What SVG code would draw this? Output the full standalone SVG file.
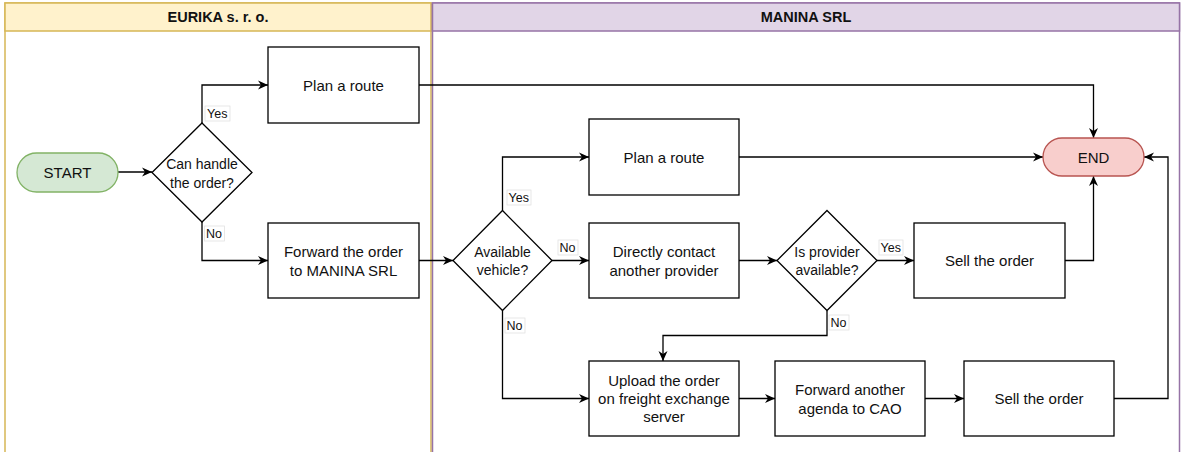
<svg xmlns="http://www.w3.org/2000/svg" width="1181" height="452" viewBox="0 0 1181 452">
<style>
  text { font-family: "Liberation Sans", Arial, sans-serif; fill: #111; }
  .box { fill: #ffffff; stroke: #000; stroke-width: 1.3; }
  .t { font-size: 15px; text-anchor: middle; dominant-baseline: central; }
  .td { font-size: 14px; text-anchor: middle; dominant-baseline: central; }
  .hdr { font-size: 14.5px; font-weight: bold; text-anchor: middle; dominant-baseline: central; }
  .lbl { font-size: 12.5px; dominant-baseline: central; }
  .lblbg { fill: #fff; stroke: #e2e2e2; stroke-width: 0.8; }
  .edge { fill: none; stroke: #000; stroke-width: 1.3; marker-end: url(#arr); }
</style>
<defs>
  <marker id="arr" markerUnits="userSpaceOnUse" markerWidth="12" markerHeight="10" refX="10" refY="5" orient="auto">
    <path d="M0,0.5 L10,5 L0,9.5 L3,5 Z" fill="#000"/>
  </marker>
</defs>
<rect width="1181" height="452" fill="#fff"/>

<g id="lane-eurika">
  <rect x="5" y="3" width="426" height="460" fill="#fff" stroke="#d6b656" stroke-width="1.5"/>
  <rect x="5" y="3" width="426" height="28" fill="#fff2cc" stroke="#d6b656" stroke-width="1.5"/>
  <text class="hdr" x="218" y="17">EURIKA s. r. o.</text>
</g>
<g id="lane-manina">
  <rect x="432.5" y="3" width="747" height="460" fill="#fff" stroke="#9673a6" stroke-width="1.5"/>
  <rect x="432.5" y="3" width="747" height="28" fill="#e1d5e7" stroke="#9673a6" stroke-width="1.5"/>
  <text class="hdr" x="806" y="17">MANINA SRL</text>
</g>

<g id="connectors">
  <path class="edge" d="M118,172 L152,172"/>
  <path class="edge" d="M202,123 L202,85 L268,85"/>
  <path class="edge" d="M202,222 L202,260.5 L268,260.5"/>
  <path class="edge" d="M419,85 L1093.5,85 L1093.5,138"/>
  <path class="edge" d="M419,260.5 L453,260.5"/>
  <path class="edge" d="M502.5,210.5 L502.5,157 L589,157"/>
  <path class="edge" d="M552,260.5 L589,260.5"/>
  <path class="edge" d="M502.5,310.5 L502.5,398.5 L589,398.5"/>
  <path class="edge" d="M739,157 L1043,157"/>
  <path class="edge" d="M739,260.5 L777,260.5"/>
  <path class="edge" d="M877,260.5 L914,260.5"/>
  <path class="edge" d="M827,310.5 L827,335.5 L663,335.5 L663,361"/>
  <path class="edge" d="M1065,260.5 L1093.5,260.5 L1093.5,176"/>
  <path class="edge" d="M739,398.5 L775,398.5"/>
  <path class="edge" d="M925,398.5 L964,398.5"/>
  <path class="edge" d="M1114,398.5 L1168,398.5 L1168,157 L1144,157"/>

  <rect class="lblbg" x="205" y="106" width="25" height="15"/>
  <text class="lbl" x="207" y="113.5">Yes</text>
  <rect class="lblbg" x="204.5" y="226" width="20" height="15"/>
  <text class="lbl" x="206" y="233.5">No</text>
  <rect class="lblbg" x="507" y="190" width="24" height="15"/>
  <text class="lbl" x="508.5" y="197.5">Yes</text>
  <rect class="lblbg" x="558" y="240" width="20" height="15"/>
  <text class="lbl" x="559.5" y="247.5">No</text>
  <rect class="lblbg" x="505" y="318" width="20" height="15"/>
  <text class="lbl" x="506.5" y="325.5">No</text>
  <rect class="lblbg" x="879" y="240" width="24" height="15"/>
  <text class="lbl" x="880.5" y="247.5">Yes</text>
  <rect class="lblbg" x="829" y="315" width="20" height="15"/>
  <text class="lbl" x="830.5" y="322.5">No</text>
</g>

<g id="start">
  <rect x="17" y="153" width="101" height="39" rx="19.5" fill="#d5e8d4" stroke="#82b366" stroke-width="1.3"/>
  <text class="t" x="67.5" y="172.5">START</text>
</g>
<g id="can-handle">
  <path class="box" d="M202,123 L252,172.5 L202,222 L152,172.5 Z"/>
  <text class="td" x="202" y="164">Can handle</text>
  <text class="td" x="202" y="182.5">the order?</text>
</g>
<g id="plan-route-1">
  <rect class="box" x="268" y="47" width="151" height="76"/>
  <text class="t" x="343.5" y="85">Plan a route</text>
</g>
<g id="forward-order">
  <rect class="box" x="268" y="223" width="151" height="75"/>
  <text class="t" x="343.5" y="251.5">Forward the order</text>
  <text class="t" x="343.5" y="270">to MANINA SRL</text>
</g>
<g id="available-vehicle">
  <path class="box" d="M502.5,210.5 L552,260.5 L502.5,310.5 L453,260.5 Z"/>
  <text class="td" x="502.5" y="251.5">Available</text>
  <text class="td" x="502.5" y="270">vehicle?</text>
</g>
<g id="plan-route-2">
  <rect class="box" x="589" y="119" width="150" height="76"/>
  <text class="t" x="664" y="157">Plan a route</text>
</g>
<g id="direct-contact">
  <rect class="box" x="589" y="223" width="150" height="75"/>
  <text class="t" x="664" y="251.5">Directly contact</text>
  <text class="t" x="664" y="270">another provider</text>
</g>
<g id="provider-available">
  <path class="box" d="M827,210.5 L877,260.5 L827,310.5 L777,260.5 Z"/>
  <text class="td" x="827" y="251.5">Is provider</text>
  <text class="td" x="827" y="270">available?</text>
</g>
<g id="sell-order-1">
  <rect class="box" x="914" y="223" width="151" height="75"/>
  <text class="t" x="989.5" y="260.5">Sell the order</text>
</g>
<g id="end">
  <rect x="1043" y="138" width="101" height="38" rx="19" fill="#f8cecc" stroke="#b85450" stroke-width="1.3"/>
  <text class="t" x="1093.5" y="157.5">END</text>
</g>
<g id="upload-order">
  <rect class="box" x="589" y="361" width="150" height="75"/>
  <text class="t" x="664" y="380.5">Upload the order</text>
  <text class="t" x="664" y="398.5">on freight exchange</text>
  <text class="t" x="664" y="416.5">server</text>
</g>
<g id="forward-agenda">
  <rect class="box" x="775" y="361" width="150" height="75"/>
  <text class="t" x="850" y="389.5">Forward another</text>
  <text class="t" x="850" y="408">agenda to CAO</text>
</g>
<g id="sell-order-2">
  <rect class="box" x="964" y="361" width="150" height="75"/>
  <text class="t" x="1039" y="398.5">Sell the order</text>
</g>
</svg>
